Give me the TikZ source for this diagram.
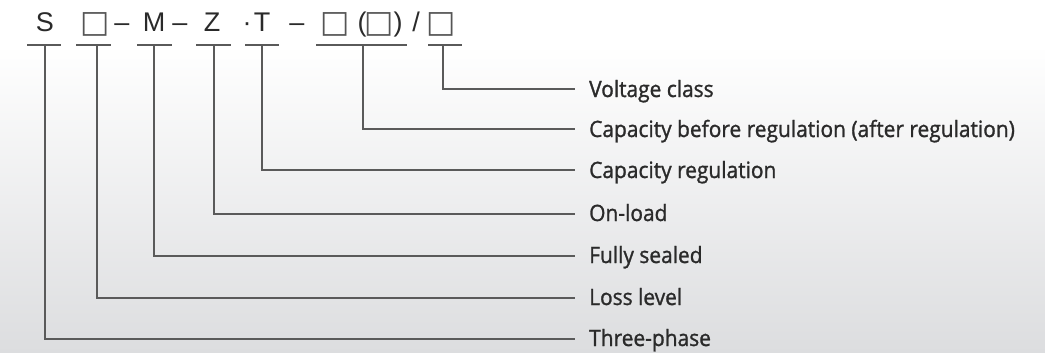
\documentclass[tikz,border=0pt]{standalone}
\usepackage{fontspec}
\setmainfont{Liberation Sans}
\newfontfamily\labfont[FakeStretch=0.93,FakeBold=1.2]{Open Sans}
\newfontfamily\symfont{DejaVu Sans}
\definecolor{txt}{HTML}{2A2A2A}
\definecolor{boxc}{HTML}{555555}
\definecolor{ln}{HTML}{5A5A5A}
\definecolor{bgbot}{HTML}{DCDDDF}
\tikzset{
  code/.style={inner sep=0pt, anchor=base, text=txt, font=\fontsize{27}{27}\selectfont},
  sym/.style={inner sep=0pt, anchor=base, text=boxc, font=\symfont\fontsize{31}{31}\selectfont},
  lab/.style={inner sep=0pt, anchor=base west, text=txt, font=\labfont\fontsize{22.5}{22.5}\selectfont},
  uline/.style={draw=ln, line width=1.5pt},
  conn/.style={draw=ln, line width=1.5pt},
}
\begin{document}
\begin{tikzpicture}[x=1pt,y=-1pt]
\useasboundingbox (0,0) rectangle (1045,353);
\shade[top color=white, bottom color=bgbot, shading angle=0] (0,353) rectangle (1045,45);
\fill[white] (0,0) rectangle (1045,45.5);
% top code
\node[code] (cS) at (45,32) {S};
\node[sym]  (cL) at (95,33) {□};
\node[code] (cd1) at (122,32) {–};
\node[code] (cM) at (154,32) {M};
\node[code] (cd2) at (180,32) {–};
\node[code] (cZ) at (212,32) {Z};
\node[code] (cdot) at (247,32) {·};
\node[code] (cT) at (262,32) {T};
\node[code] (cd3) at (297,32) {–};
\node[sym]  (cC) at (335,33) {□};
\node[code] (cpl) at (362,32) {(};
\node[sym]  (cC2) at (379,33) {□};
\node[code] (cpr) at (398,32) {)};
\node[code] (csl) at (416,32) {/};
\node[sym]  (cV) at (441,33) {□};
% underlines
\foreach \n/\a/\b in {S/27/61, L/76/111, M/137/172, Z/196/231, T/245/279, C/316/407, V/428/462}{
  \coordinate (u\n a) at (\a,45);
  \coordinate (u\n b) at (\b,45);
  \draw[uline] (u\n a) -- (u\n b);
}
\coordinate (uS) at (45,45);
\coordinate (uL) at (97,45);
\coordinate (uM) at (154,45);
\coordinate (uZ) at (214,45);
\coordinate (uT) at (262,45);
\coordinate (uC) at (363,45);
\coordinate (uV) at (443,45);
% labels (base west at baseline)
\node[lab] (lV) at (589,97) {Voltage class};
\node[lab] (lC) at (589,137) {Capacity before regulation (after regulation)};
\node[lab] (lT) at (589,178) {Capacity regulation};
\node[lab] (lZ) at (589,221) {On-load};
\node[lab] (lM) at (589,263) {Fully sealed};
\node[lab] (lL) at (589,305) {Loss level};
\node[lab] (lS) at (589,346) {Three-phase};
% connectors
\coordinate (eV) at (575,89);
\coordinate (eC) at (575,129);
\coordinate (eT) at (575,170);
\coordinate (eZ) at (575,214);
\coordinate (eM) at (575,256);
\coordinate (eL) at (575,298);
\coordinate (eS) at (575,339);
\foreach \n in {V,C,T,Z,M,L,S}{
  \draw[conn] (u\n) |- (e\n);
}
\end{tikzpicture}
\end{document}
